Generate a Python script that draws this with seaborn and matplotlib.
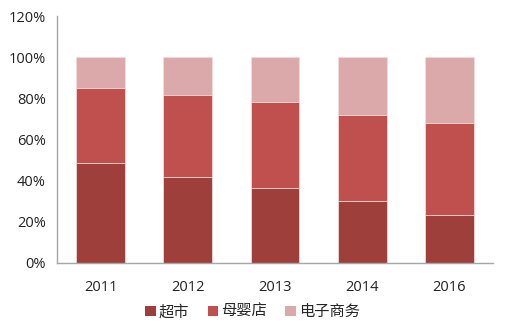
import matplotlib
matplotlib.use("Agg")
import matplotlib.pyplot as plt
import seaborn as sns
import numpy as np
import pandas as pd
from matplotlib.patches import Patch

years = ["2011", "2012", "2013", "2014", "2016"]
supermarket = [48.5, 41.7, 36.4, 30.2, 23.2]
baby_store = [36.5, 40.0, 41.8, 41.5, 44.8]
ecommerce = [15.0, 18.3, 21.8, 28.3, 32.0]
series_names = ["超市", "母婴店", "电子商务"]
colors = ["#9E3F3B", "#C0504D", "#DBA9A9"]

sns.set_theme(style="white")
plt.rcParams['font.family'] = ['Open Sans', 'Noto Sans CJK SC', 'DejaVu Sans']

fig = plt.figure(figsize=(5.05, 3.34), dpi=100)
ax = fig.add_axes([0.113, 0.213, 0.863, 0.739])

s1 = np.array(supermarket)
s2 = s1 + np.array(baby_store)
s3 = s2 + np.array(ecommerce)
layers = [s3, s2, s1]
layer_colors = [colors[2], colors[1], colors[0]]
for vals, c in zip(layers, layer_colors):
    df = pd.DataFrame({"year": years, "val": vals / 100.0})
    sns.barplot(data=df, x="year", y="val", color=c, width=0.56, ax=ax,
                saturation=1, edgecolor="#F2DCDB", linewidth=0.6)

ax.set_ylim(0, 1.2)
ax.set_xlim(-0.5, 4.5)
ax.set_yticks(np.arange(0, 1.21, 0.2))
ax.set_yticklabels([f"{int(round(v*100))}%" for v in np.arange(0, 1.21, 0.2)])
ax.set_xlabel("")
ax.set_ylabel("")
for side in ["top", "right"]:
    ax.spines[side].set_visible(False)
for side in ["left", "bottom"]:
    ax.spines[side].set_color("#A6A6A6")
    ax.spines[side].set_linewidth(1.0)
ax.tick_params(axis="both", length=0, labelsize=10.5, colors="#222222")
ax.tick_params(axis="x", pad=12)
ax.tick_params(axis="y", pad=8)

handles = [Patch(facecolor=c, edgecolor="none") for c in colors]
fig.legend(handles, series_names, loc="lower center", bbox_to_anchor=(0.5, 0.0),
           ncol=3, frameon=False, fontsize=11, handlelength=0.7, handleheight=0.7,
           handletextpad=0.2, columnspacing=1.2)

fig.savefig("out.png", dpi=100)
